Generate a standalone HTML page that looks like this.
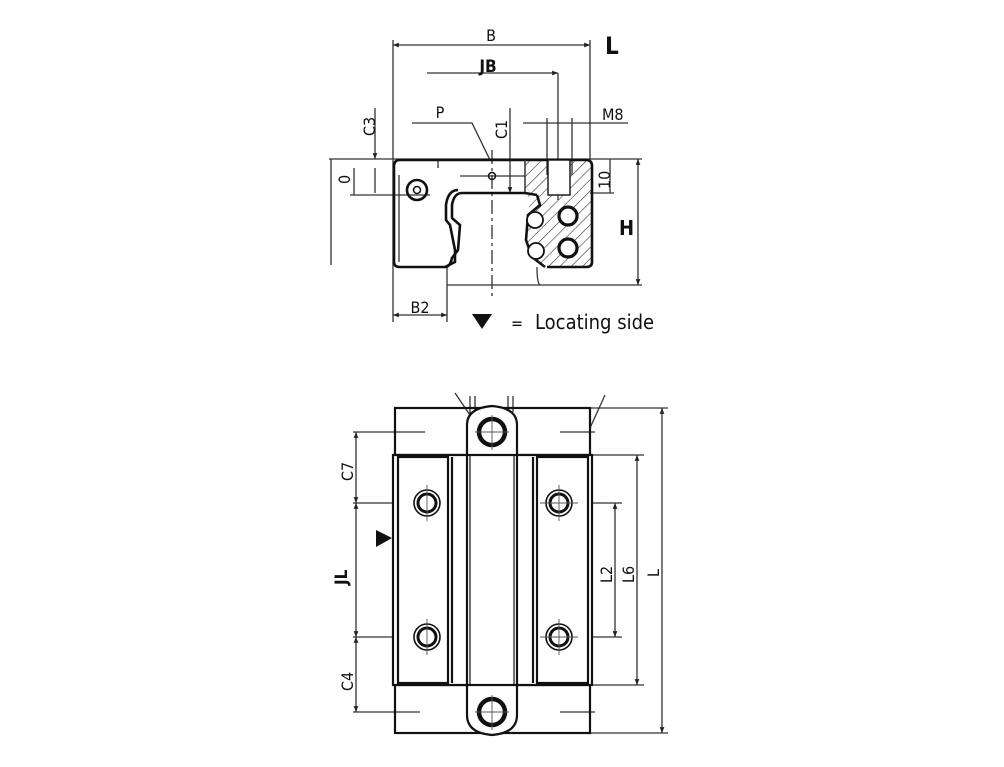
<!DOCTYPE html>
<html><head><style>
html,body{margin:0;padding:0;background:#fff;}
svg{display:block;}
text{font-family:"DejaVu Sans Condensed","Liberation Sans",sans-serif;fill:#111;}
</style></head><body>
<svg width="1004" height="767" viewBox="0 0 1004 767" xmlns="http://www.w3.org/2000/svg">
<defs>
<marker id="a" viewBox="0 0 10 10" refX="10" refY="5" markerWidth="6" markerHeight="4.5" orient="auto-start-reverse"><path d="M0,1 L10,5 L0,9 z" fill="#222"/></marker>
<pattern id="h" width="8" height="8" patternUnits="userSpaceOnUse" patternTransform="rotate(45)"><line x1="0" y1="0" x2="0" y2="8" stroke="#333" stroke-width="1.2"/></pattern>
</defs>
<g stroke="#333" stroke-width="1.3" fill="none">
<line x1="393" y1="40" x2="393" y2="322"/>
<line x1="590" y1="40" x2="590" y2="160"/>
<line x1="393" y1="45" x2="590" y2="45" marker-start="url(#a)" marker-end="url(#a)"/>
<line x1="427" y1="73" x2="558" y2="73" marker-end="url(#a)"/>
<line x1="558" y1="73" x2="558" y2="200"/>
<polyline points="412,123 472,123 490,160"/>
<line x1="510" y1="108" x2="510" y2="193" marker-end="url(#a)"/>
<line x1="523" y1="123" x2="628" y2="123"/>
<line x1="547" y1="118" x2="547" y2="175"/>
<line x1="572" y1="118" x2="572" y2="175"/>
<line x1="375" y1="108" x2="375" y2="159" marker-end="url(#a)"/>
<line x1="375" y1="168" x2="375" y2="193"/>
<line x1="329" y1="159" x2="642" y2="159"/>
<line x1="331" y1="159" x2="331" y2="265"/>
<line x1="354" y1="168" x2="354" y2="195"/>
<line x1="350" y1="195" x2="430" y2="195"/>
<line x1="438" y1="159" x2="438" y2="168"/>
<line x1="590" y1="193" x2="614" y2="193"/>
<line x1="610" y1="159" x2="610" y2="193"/>
<line x1="638" y1="159" x2="638" y2="285" marker-start="url(#a)" marker-end="url(#a)"/>
<line x1="447" y1="285" x2="642" y2="285"/>
<path d="M537,267 Q537,283 540,285"/>
<line x1="447" y1="267" x2="447" y2="322"/>
<line x1="393" y1="315" x2="447" y2="315" marker-start="url(#a)" marker-end="url(#a)"/>
<line x1="492" y1="150" x2="492" y2="300" stroke-dasharray="14,4,3,4"/>
<line x1="460" y1="176" x2="525" y2="176"/>
</g>
<path d="M525,160 L592,160 L592,267 L545,267 Q537,262 535,255 Q527,245 525,230 L530,200 L525,192 Z" fill="url(#h)" stroke="none"/>
<g stroke="#111" stroke-width="2.6" fill="none">
<path d="M400,160 L586,160 Q592,160 592,166 L592,262 Q592,267 586,267 L547,267"/>
<path d="M400,160 Q394,160 394,166 L394,262 Q394,267 400,267 L445,267 Q450,267 452,258 L458,250 L460,225 L452,218 L452,205 Q454,193 462,193 L525,193 L537,195"/>
<path d="M445,267 L455,262 L455,250 L450,225 L446,220 L446,205 Q448,190 458,190"/>
<path d="M537,195 L540,205 L528,215 L526,240 L532,257 L545,267"/>
<rect x="548" y="160" width="22" height="35" stroke-width="1.4" fill="#fff"/>
<circle cx="417" cy="190" r="10"/>
<circle cx="568" cy="216" r="9" stroke-width="3.2" fill="#fff"/>
<circle cx="568" cy="248" r="9" stroke-width="3.2" fill="#fff"/>
<circle cx="535" cy="220" r="8" stroke-width="1.8" fill="#fff"/>
<circle cx="536" cy="251" r="8" stroke-width="1.8" fill="#fff"/>
</g>
<line x1="399" y1="175" x2="399" y2="262" stroke="#333" stroke-width="1.3"/>
<circle cx="417" cy="190" r="3.5" fill="none" stroke="#111" stroke-width="1.5"/>
<circle cx="492" cy="176" r="3.5" fill="none" stroke="#111" stroke-width="1.5"/>
<line x1="525" y1="160" x2="525" y2="192" stroke="#333" stroke-width="1.5"/>
<text x="491" y="41" font-size="16" text-anchor="middle">B</text>
<text x="605" y="54" font-size="24" font-weight="bold" font-family="Liberation Sans">L</text>
<text x="488" y="72" font-size="17" font-weight="bold" text-anchor="middle" font-family="Liberation Sans">JB</text>
<text x="440" y="118" font-size="16" text-anchor="middle">P</text>
<text x="602" y="120" font-size="16">M8</text>
<text x="0" y="0" font-size="16" transform="translate(375,136) rotate(-90)">C3</text>
<text x="0" y="0" font-size="16" transform="translate(507,139) rotate(-90)">C1</text>
<text x="0" y="0" font-size="16" transform="translate(350,184) rotate(-90)">0</text>
<text x="0" y="0" font-size="16" transform="translate(610,189) rotate(-90)">10</text>
<text x="619" y="235" font-size="20" font-weight="bold" font-family="Liberation Sans">H</text>
<text x="420" y="313" font-size="16" text-anchor="middle">B2</text>
<path d="M472,314 L492,314 L482,329 Z" fill="#111"/>
<text x="511" y="329" font-size="16" font-family="Liberation Sans">=</text>
<text x="535" y="329" font-size="20" font-family="Liberation Sans">Locating side</text>

<g stroke="#333" stroke-width="1.3" fill="none">
<line x1="588" y1="408" x2="668" y2="408"/>
<line x1="588" y1="733" x2="668" y2="733"/>
<line x1="662" y1="408" x2="662" y2="733" marker-start="url(#a)" marker-end="url(#a)"/>
<line x1="592" y1="455" x2="644" y2="455"/>
<line x1="592" y1="685" x2="644" y2="685"/>
<line x1="637" y1="455" x2="637" y2="685" marker-start="url(#a)" marker-end="url(#a)"/>
<line x1="545" y1="503" x2="622" y2="503"/>
<line x1="545" y1="637" x2="622" y2="637"/>
<line x1="615" y1="503" x2="615" y2="637" marker-start="url(#a)" marker-end="url(#a)"/>
<line x1="353" y1="432" x2="425" y2="432"/>
<line x1="353" y1="503" x2="448" y2="503"/>
<line x1="353" y1="637" x2="448" y2="637"/>
<line x1="353" y1="712" x2="420" y2="712"/>
<line x1="356" y1="432" x2="356" y2="503" marker-start="url(#a)" marker-end="url(#a)"/>
<line x1="356" y1="503" x2="356" y2="637" marker-start="url(#a)" marker-end="url(#a)"/>
<line x1="356" y1="637" x2="356" y2="712" marker-start="url(#a)" marker-end="url(#a)"/>
<line x1="560" y1="432" x2="595" y2="432"/>
<line x1="560" y1="712" x2="595" y2="712"/>
<line x1="455" y1="393" x2="472" y2="418"/>
<line x1="470" y1="396" x2="470" y2="415"/>
<line x1="475" y1="396" x2="475" y2="415"/>
<line x1="508" y1="396" x2="508" y2="412"/>
<line x1="513" y1="396" x2="513" y2="412"/>
<line x1="605" y1="395" x2="590" y2="428"/>
</g>
<g stroke="#111" stroke-width="2.2" fill="none">
<rect x="395" y="408" width="195" height="47"/>
<rect x="395" y="685" width="195" height="48"/>
<rect x="393" y="455" width="199" height="230" fill="#fff"/>
<rect x="398" y="457" width="50" height="226"/>
<line x1="452" y1="457" x2="452" y2="683"/>
<rect x="537" y="457" width="51" height="226"/>
<line x1="533" y1="457" x2="533" y2="683"/>
<path d="M467,455 L467,425 Q467,408 492,406 Q517,408 517,425 L517,455" fill="#fff"/>
<path d="M467,685 L467,715 Q467,733 492,735 Q517,733 517,715 L517,685" fill="#fff"/>
<rect x="467" y="455" width="50" height="230" fill="#fff"/>
<line x1="470" y1="455" x2="470" y2="685" stroke-width="1.2"/>
<line x1="514" y1="455" x2="514" y2="685" stroke-width="1.2"/>
<circle cx="492" cy="432" r="13" stroke-width="4.5"/>
<circle cx="492" cy="712" r="13" stroke-width="4.5"/>
<circle cx="427" cy="503" r="13" stroke-width="1.6"/>
<circle cx="427" cy="503" r="9" stroke-width="3"/>
<circle cx="427" cy="637" r="13" stroke-width="1.6"/>
<circle cx="427" cy="637" r="9" stroke-width="3"/>
<circle cx="559" cy="503" r="13" stroke-width="1.6"/>
<circle cx="559" cy="503" r="9" stroke-width="3"/>
<circle cx="559" cy="637" r="13" stroke-width="1.6"/>
<circle cx="559" cy="637" r="9" stroke-width="3"/>
</g>
<g stroke="#555" stroke-width="0.9">
<line x1="492" y1="415" x2="492" y2="450"/><line x1="475" y1="432" x2="509" y2="432"/>
<line x1="492" y1="695" x2="492" y2="730"/><line x1="475" y1="712" x2="509" y2="712"/>
<line x1="427" y1="485" x2="427" y2="521"/><line x1="427" y1="619" x2="427" y2="655"/>
<line x1="559" y1="485" x2="559" y2="521"/><line x1="559" y1="619" x2="559" y2="655"/>
<line x1="540" y1="503" x2="578" y2="503"/><line x1="540" y1="637" x2="578" y2="637"/>
</g>
<path d="M376,530 L392,538 L376,547 Z" fill="#111"/>
<text x="0" y="0" font-size="16" transform="translate(353,481) rotate(-90)">C7</text>
<text x="0" y="0" font-size="16" transform="translate(353,691) rotate(-90)">C4</text>
<text x="0" y="0" font-size="17" font-weight="bold" font-family="Liberation Sans" transform="translate(347,585) rotate(-90)">JL</text>
<text x="0" y="0" font-size="16" transform="translate(612,583) rotate(-90)">L2</text>
<text x="0" y="0" font-size="16" transform="translate(634,583) rotate(-90)">L6</text>
<text x="0" y="0" font-size="16" transform="translate(659,577) rotate(-90)">L</text>
</svg>
</body></html>
